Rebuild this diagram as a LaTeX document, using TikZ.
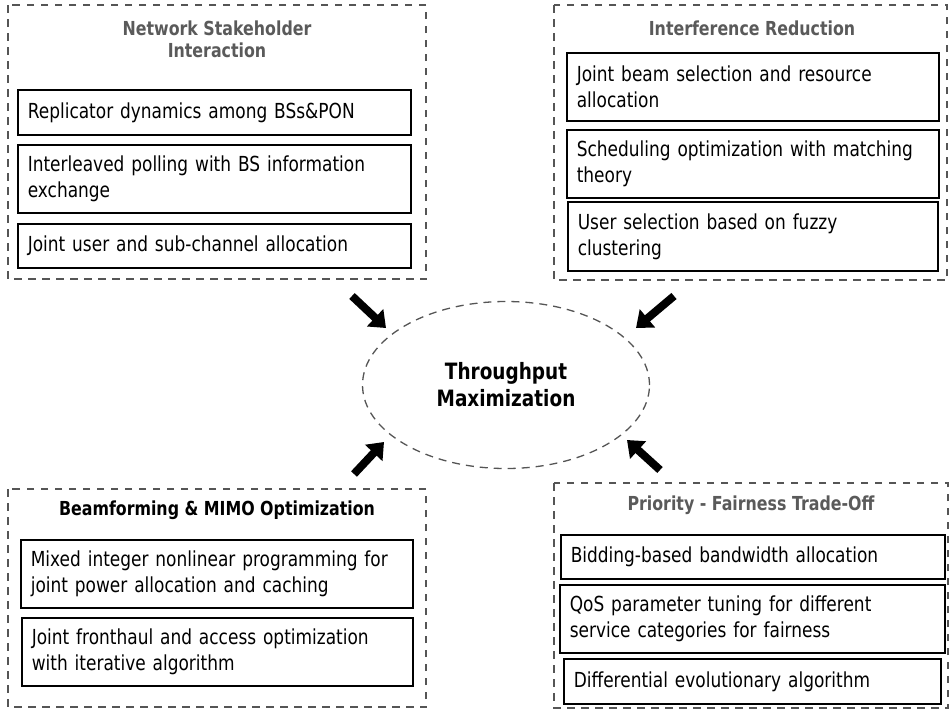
\documentclass[tikz,border=0pt]{standalone}
\usepackage{fontspec}
\setmainfont[FakeStretch=0.82]{DejaVu Sans}
\usetikzlibrary{shapes.geometric,arrows.meta}
\definecolor{dashgray}{HTML}{555555}
\definecolor{headgray}{HTML}{5A5A5A}
\begin{document}
\begin{tikzpicture}[x=1pt,y=-1pt,
    group/.style={draw=dashgray,line width=1.6pt,dash pattern=on 7.5pt off 6.5pt},
    item/.style={draw,line width=1.6pt,anchor=north west,align=left,inner xsep=10pt,inner ysep=0pt,
        font=\fontsize{20.7}{26}\selectfont},
    head/.style={font=\bfseries\fontsize{19.3}{22}\selectfont,align=center},
    push/.style={line width=8pt,-{Triangle[length=15pt,width=23pt]}}]
    \useasboundingbox (0,0) rectangle (949,710);
    % groups
    \draw[group] (8,5) rectangle (426,279);
    \draw[group] (554,5) rectangle (947,280);
    \draw[group] (8,489) rectangle (426,707);
    \draw[group] (554,483) rectangle (948,708);
    \node[head,text=headgray] (nsi) at (217,39) {Network Stakeholder\\Interaction};
    \node[head,text=headgray] (ir) at (752,28) {Interference Reduction};
    \node[head] (bmo) at (217,510) {Beamforming \& MIMO Optimization};
    \node[head,text=headgray] (pft) at (751,505) {Priority - Fairness Trade-Off};
    % network stakeholder interaction
    \node[item,text width=373pt,minimum height=45pt] (n1) at (17,89) {Replicator dynamics among BSs\&PON};
    \node[item,text width=373pt,minimum height=68pt] (n2) at (17,144) {Interleaved polling with BS information\\exchange};
    \node[item,text width=373pt,minimum height=44pt] (n3) at (17,223) {Joint user and sub-channel allocation};
    % interference reduction
    \node[item,text width=352pt,minimum height=68pt] (i1) at (566,52) {Joint beam selection and resource\\allocation};
    \node[item,text width=352pt,minimum height=68pt] (i2) at (566,129) {Scheduling optimization with matching\\theory};
    \node[item,text width=350pt,minimum height=69pt] (i3) at (567,201) {User selection based on fuzzy\\clustering};
    % beamforming & mimo
    \node[item,text width=372pt,minimum height=68pt] (b1) at (20,539) {Mixed integer nonlinear programming for\\joint power allocation and caching};
    \node[item,text width=371pt,minimum height=68pt] (b2) at (21,617) {Joint fronthaul and access optimization\\with iterative algorithm};
    % priority - fairness
    \node[item,text width=364pt,minimum height=44pt] (p1) at (560,534) {Bidding-based bandwidth allocation};
    \node[item,text width=365pt,minimum height=68pt] (p2) at (559,584) {QoS parameter tuning for different\\service categories for fairness};
    \node[item,text width=357pt,minimum height=45pt] (p3) at (563,658) {Differential evolutionary algorithm};
    % centre
    \node[ellipse,draw=dashgray,line width=1.3pt,dash pattern=on 8pt off 6pt,minimum width=287pt,minimum height=167pt,
        font=\bfseries\fontsize{22.5}{27}\selectfont,align=center] (tm) at (506,385) {Throughput\\Maximization};
    \coordinate (a1) at (352,296); \coordinate (t1) at (386,328);
    \coordinate (a2) at (674,296); \coordinate (t2) at (636,328);
    \coordinate (a3) at (354,474); \coordinate (t3) at (384,442);
    \coordinate (a4) at (660,470); \coordinate (t4) at (627,440);
    \draw[push] (a1)--(t1);
    \draw[push] (a2)--(t2);
    \draw[push] (a3)--(t3);
    \draw[push] (a4)--(t4);
\end{tikzpicture}
\end{document}
